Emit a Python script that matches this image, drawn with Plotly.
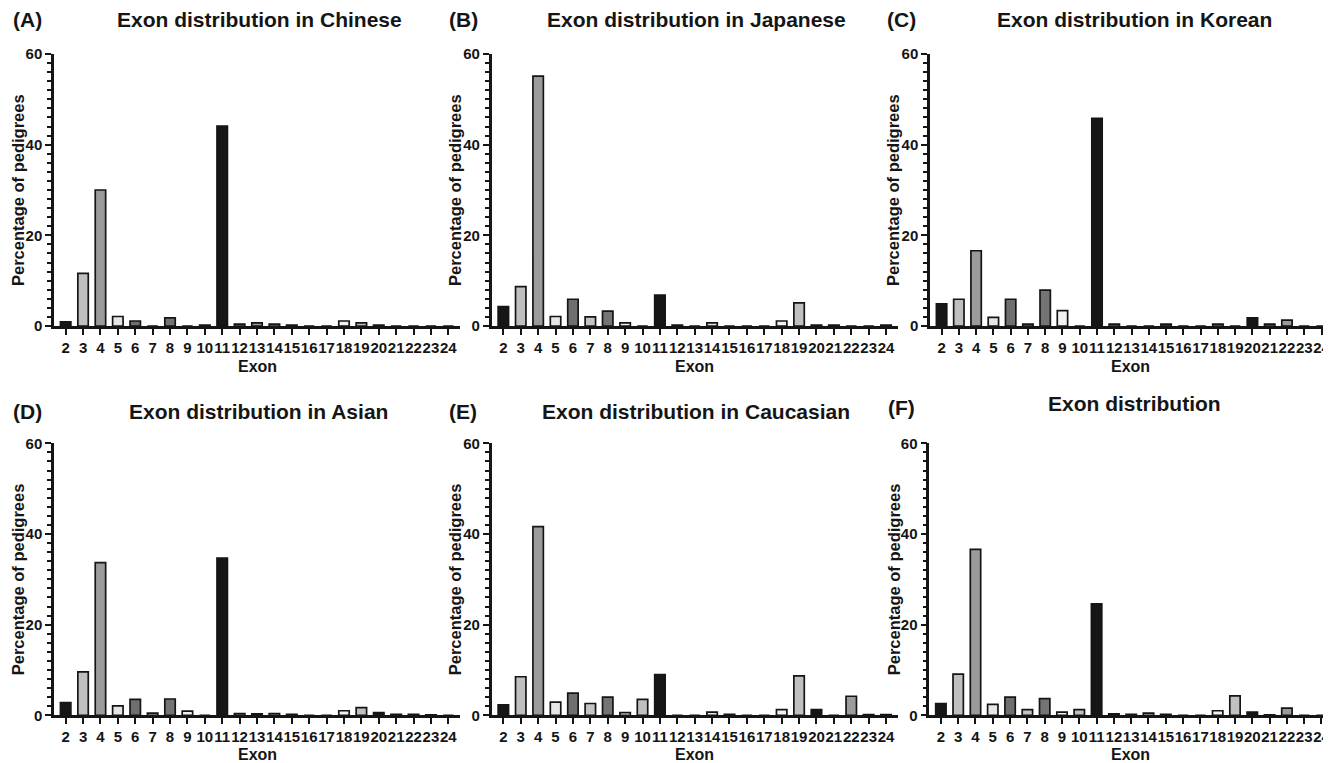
import plotly.graph_objects as go

# ---------------- data ----------------
exons = list(range(2, 25))
exon_labels = [str(e) for e in exons]

chinese   = [0.9, 11.6, 30.0, 2.1, 1.1, 0.0, 1.8, 0.0, 0.2, 44.1, 0.4, 0.7, 0.4, 0.2, 0.0, 0.0, 1.1, 0.7, 0.2, 0.0, 0.0, 0.0, 0.0]
japanese  = [4.3, 8.7, 55.1, 2.1, 5.9, 2.0, 3.3, 0.7, 0.0, 6.8, 0.2, 0.0, 0.7, 0.0, 0.0, 0.0, 1.1, 5.1, 0.2, 0.2, 0.0, 0.0, 0.2]
korean    = [4.9, 5.9, 16.6, 1.9, 5.9, 0.4, 7.9, 3.4, 0.0, 45.8, 0.4, 0.0, 0.0, 0.4, 0.0, 0.0, 0.4, 0.0, 1.8, 0.4, 1.3, 0.0, 0.0]
asian     = [2.8, 9.6, 33.7, 2.1, 3.5, 0.5, 3.6, 0.9, 0.0, 34.7, 0.4, 0.3, 0.4, 0.2, 0.0, 0.0, 1.0, 1.7, 0.6, 0.2, 0.2, 0.1, 0.0]
caucasian = [2.3, 8.5, 41.6, 2.9, 4.9, 2.6, 4.0, 0.6, 3.5, 9.0, 0.0, 0.0, 0.7, 0.2, 0.0, 0.0, 1.25, 8.7, 1.25, 0.0, 4.2, 0.15, 0.15]
overall   = [2.6, 9.1, 36.6, 2.4, 4.0, 1.25, 3.7, 0.7, 1.25, 24.6, 0.3, 0.2, 0.5, 0.2, 0.0, 0.0, 1.0, 4.3, 0.7, 0.1, 1.6, 0.0, 0.0]

titles = ["Exon distribution in Chinese", "Exon distribution in Japanese", "Exon distribution in Korean",
          "Exon distribution in Asian", "Exon distribution in Caucasian", "Exon distribution"]
panel_tags = ["(A)", "(B)", "(C)", "(D)", "(E)", "(F)"]
series = [chinese, japanese, korean, asian, caucasian, overall]

y_ticks = [0, 20, 40, 60]

# ---------------- style ----------------
OFF = 8                      # page body margin offset
W, H = 1331 - OFF, 763 - OFF
cycle = ["#161616", "#bfbfbf", "#9b9b9b", "#e6e6e6", "#6f6f6f", "#c4c4c4", "#747474", "#f2f2f2", "#c0c0c0"]
bar_colors = [cycle[i % 9] for i in range(len(exons))]
INK = "#151515"
FONT = "Liberation Sans, Arial, sans-serif"


def fx(px):
    return (px - OFF) / W


def fy(py):
    return 1 - (py - OFF) / H


# pixel geometry (screen px): (left px of y-axis, right px, x-range right end)
cols = [(54, 460, 24.67), (491.7, 897.7, 24.67), (930, 1331, 24.55)]
cols_bottom = [(54, 460, 24.67), (491.7, 897.7, 24.67), (929.3, 1331, 24.55)]
rows = [(54, 326), (443.3, 715.3)]  # (y px of 60, y px of 0)

fig = go.Figure()
annotations = []

title_pos = [(259, 20), (696, 20), (1134, 20), (258, 411), (696, 411), (1134, 403)]
tag_pos = [(27, 20), (463, 20), (901, 20), (27, 411), (463, 411), (901, 407)]
ytitle_x = [18, 455, 893, 18, 455, 894]

for k in range(6):
    r, c = divmod(k, 3)
    left, right, xr = (cols if r == 0 else cols_bottom)[c]
    ytop, ybot = rows[r]
    xa = "x" if k == 0 else f"x{k+1}"
    ya = "y" if k == 0 else f"y{k+1}"
    fig.add_trace(go.Bar(
        x=exons, y=series[k], xaxis=xa, yaxis=ya, width=0.6,
        marker=dict(color=bar_colors, line=dict(color=INK, width=1.7)),
        showlegend=False, hoverinfo="x+y"))
    xkey = "xaxis" if k == 0 else f"xaxis{k+1}"
    ykey = "yaxis" if k == 0 else f"yaxis{k+1}"
    fig.layout[xkey] = dict(
        domain=[fx(left), min(1.0, fx(right))], anchor=ya, range=[1.33, xr], automargin=False,
        tickmode="array", tickvals=exons, ticktext=exon_labels, tickangle=0,
        ticklabeloverflow="allow",
        showline=True, linecolor=INK, linewidth=2.5,
        ticks="outside", ticklen=6, tickwidth=2, tickcolor=INK,
        showgrid=False, zeroline=False,
        tickfont=dict(family=FONT, size=15, color=INK, weight="bold"),
        fixedrange=True)
    fig.layout[ykey] = dict(
        domain=[fy(ybot), fy(ytop)], anchor=xa, range=[0, 60], automargin=False,
        tickmode="array", tickvals=y_ticks,
        showline=True, linecolor=INK, linewidth=2.5,
        ticks="outside", ticklen=6, tickwidth=2, tickcolor=INK,
        minor=dict(ticks="outside", dtick=2, tick0=0, ticklen=4, tickwidth=1.5, tickcolor=INK),
        showgrid=False, zeroline=False,
        tickfont=dict(family=FONT, size=15, color=INK, weight="bold"),
        fixedrange=True)
    tx, ty = title_pos[k]
    annotations.append(dict(text=f"<b>{titles[k]}</b>", x=fx(tx), y=fy(ty), xref="paper", yref="paper",
                            showarrow=False, xanchor="center", yanchor="middle",
                            font=dict(family=FONT, size=21, color=INK)))
    px, py = tag_pos[k]
    annotations.append(dict(text=f"<b>{panel_tags[k]}</b>", x=fx(px), y=fy(py), xref="paper", yref="paper",
                            showarrow=False, xanchor="center", yanchor="middle",
                            font=dict(family=FONT, size=21, color=INK)))
    annotations.append(dict(text="<b>Percentage of pedigrees</b>", x=fx(ytitle_x[k]), y=fy((ytop + ybot) / 2),
                            xref="paper", yref="paper", showarrow=False, textangle=-90,
                            xanchor="center", yanchor="middle",
                            font=dict(family=FONT, size=16.5, color=INK)))
    ex_y = 366 if r == 0 else 754
    annotations.append(dict(text="<b>Exon</b>", x=fx((left + min(right, left + 406)) / 2), y=fy(ex_y),
                            xref="paper", yref="paper", showarrow=False,
                            xanchor="center", yanchor="middle",
                            font=dict(family=FONT, size=16, color=INK)))

fig.update_layout(width=W, height=H, margin=dict(l=0, r=0, t=0, b=0, autoexpand=False),
                  paper_bgcolor="white", plot_bgcolor="white",
                  annotations=annotations, bargap=0.4)

fig.write_html("out.html")
